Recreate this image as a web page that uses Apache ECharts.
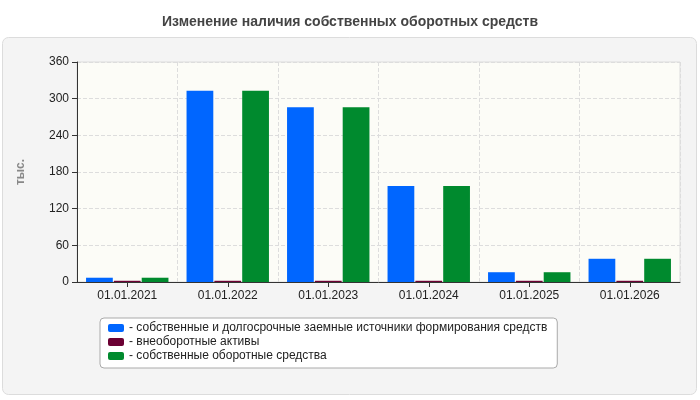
<!DOCTYPE html>
<html><head><meta charset="utf-8">
<script src="https://cdn.jsdelivr.net/npm/echarts@6/dist/echarts.min.js"></script>
<style>html,body{margin:0;padding:0;background:#fff}#c{width:700px;height:400px}</style>
</head><body><div id="c"></div>
<script>
const categories = ['01.01.2021','01.01.2022','01.01.2023','01.01.2024','01.01.2025','01.01.2026'];
const seriesNames = ['- собственные и долгосрочные заемные источники формирования средств','- внеоборотные активы','- собственные оборотные средства'];
const sourcesValues = [7, 313, 286, 157, 16, 38];
const fixedAssetsValues = [2, 2, 2, 2, 2, 2];
const workingCapitalValues = [7, 313, 286, 157, 16, 38];
const colors = ['#0066ff', '#6b0033', '#008a2e'];

const chart = echarts.init(document.getElementById('c'));
chart.setOption({
  animation: false,
  graphic: [{
    type: 'rect', z: -10, silent: true,
    shape: { x: 2.5, y: 37.5, width: 694, height: 357, r: 6 },
    style: { fill: '#f4f4f4', stroke: '#dcdcdc', lineWidth: 1 }
  }],
  title: {
    text: 'Изменение наличия собственных оборотных средств',
    left: 'center', top: 10,
    textStyle: { fontFamily: 'Arial, Liberation Sans', fontSize: 14, fontWeight: 'bold', color: '#444' }
  },
  grid: { left: 77, right: 20, top: 62, bottom: 118, backgroundColor: '#fcfcf7', show: true, borderColor: '#ddd', borderWidth: 1 },
  legend: {
    orient: 'vertical', left: 100, top: 318, width: 500,
    padding: [4, 10, 6, 8], itemGap: 2,
    backgroundColor: '#fff', borderColor: '#aaa', borderWidth: 1, borderRadius: 4,
    itemWidth: 16, itemHeight: 8,
    icon: 'roundRect',
    textStyle: { fontFamily: 'Arial, Liberation Sans', fontSize: 12, color: '#222', padding: [0, 190, 0, 0] },
    data: seriesNames
  },
  xAxis: {
    type: 'category', data: categories,
    axisLine: { lineStyle: { color: '#333' } },
    axisTick: { show: true, alignWithLabel: true, lineStyle: { color: '#333' } },
    axisLabel: { fontFamily: 'Arial, Liberation Sans', fontSize: 12, color: '#222' },
    splitLine: { show: true, interval: 0, lineStyle: { color: '#ddd', type: 'dashed' } }
  },
  yAxis: {
    type: 'value', min: 0, max: 360, interval: 60,
    name: 'тыс.', nameLocation: 'middle', nameGap: 50, nameRotate: 90,
    nameTextStyle: { fontFamily: 'Arial, Liberation Sans', fontSize: 12, fontWeight: 'bold', color: '#888' },
    axisLine: { show: true, lineStyle: { color: '#333' } },
    axisTick: { show: true, lineStyle: { color: '#333' } },
    axisLabel: { fontFamily: 'Arial, Liberation Sans', fontSize: 12, color: '#222' },
    splitLine: { lineStyle: { color: '#ddd', type: 'dashed' } }
  },
  series: [
    { name: seriesNames[0], type: 'bar', data: sourcesValues, itemStyle: { color: colors[0] }, barGap: '4%', barCategoryGap: '18%' },
    { name: seriesNames[1], type: 'bar', data: fixedAssetsValues, itemStyle: { color: colors[1] } },
    { name: seriesNames[2], type: 'bar', data: workingCapitalValues, itemStyle: { color: colors[2] } }
  ]
});
</script></body></html>
